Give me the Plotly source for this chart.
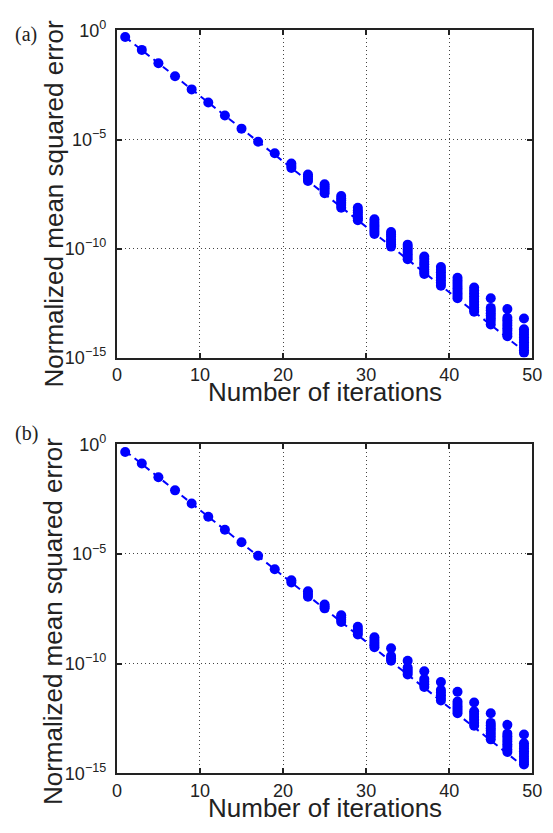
import plotly.graph_objects as go

W, H = 553, 833

# Iterations (odd only)
iterations = [1, 3, 5, 7, 9, 11, 13, 15, 17, 19, 21, 23, 25, 27, 29, 31, 33, 35, 37, 39, 41, 43, 45, 47, 49]

# log10 of normalized MSE for each run, per iteration — panel (a)
log_mse_a = [
    [-0.30], [-0.89], [-1.50], [-2.10], [-2.70], [-3.30], [-3.90], [-4.50], [-5.10], [-5.63],
    [-6.10, -6.20, -6.30],
    [-6.60, -6.70, -6.80, -6.90],
    [-7.05, -7.15, -7.25, -7.35, -7.46],
    [-7.59, -7.70, -7.80, -7.90, -8.00, -8.13],
    [-8.13, -8.25, -8.35, -8.45, -8.55, -8.62, -8.70],
    [-8.66, -8.78, -8.90, -9.00, -9.10, -9.22, -9.33],
    [-9.24, -9.35, -9.46, -9.58, -9.70, -9.80, -9.91],
    [-9.82, -9.93, -10.04, -10.15, -10.26, -10.38, -10.49],
    [-10.36, -10.48, -10.60, -10.72, -10.84, -10.96, -11.06, -11.16],
    [-10.85, -10.97, -11.09, -11.21, -11.33, -11.45, -11.58, -11.70],
    [-11.34, -11.46, -11.58, -11.70, -11.82, -11.94, -12.06, -12.17, -12.28],
    [-11.79, -11.92, -12.05, -12.18, -12.31, -12.44, -12.57, -12.70, -12.80, -12.90],
    [-12.28, -12.72, -12.84, -12.96, -13.08, -13.20, -13.32, -13.48],
    [-12.77, -13.17, -13.29, -13.41, -13.53, -13.65, -13.77, -13.90, -14.02],
    [-13.21, -13.70, -13.82, -13.94, -14.06, -14.18, -14.30, -14.42, -14.54, -14.66, -14.78],
]

# panel (b)
log_mse_b = [
    [-0.35], [-0.88], [-1.50], [-2.10], [-2.70], [-3.30], [-3.90], [-4.47], [-5.08], [-5.70],
    [-6.20, -6.30],
    [-6.70, -6.82, -6.95],
    [-7.30, -7.40, -7.48],
    [-7.79, -7.90, -8.00, -8.10],
    [-8.32, -8.44, -8.56, -8.67],
    [-8.80, -8.92, -9.04, -9.15, -9.25],
    [-9.30, -9.65, -9.76, -9.87],
    [-9.87, -10.18, -10.28, -10.38, -10.49],
    [-10.35, -10.70, -10.82, -10.94, -11.06],
    [-10.84, -11.20, -11.32, -11.44, -11.56, -11.68],
    [-11.28, -11.73, -11.84, -11.95, -12.06, -12.16, -12.26],
    [-11.77, -12.17, -12.30, -12.43, -12.56, -12.70, -12.83],
    [-12.26, -12.70, -12.82, -12.94, -13.06, -13.18, -13.31, -13.45],
    [-12.79, -13.19, -13.31, -13.43, -13.55, -13.67, -13.79, -13.91, -14.03],
    [-13.23, -13.63, -13.75, -13.87, -13.99, -14.11, -14.23, -14.35, -14.47, -14.60],
]

# Dashed reference line (log10 values at its ends)
bound_iters = [1, 49]
bound_log = [-0.30, -14.70]

x_ticks = [0, 10, 20, 30, 40, 50]
y_ticks = [1e0, 1e-5, 1e-10, 1e-15]
y_ticktext = ["10<sup>0</sup>", "10<sup>\u22125</sup>", "10<sup>\u221210</sup>", "10<sup>\u221215</sup>"]

BLUE = "#0000FF"
FONT = "Liberation Sans, Arial, Helvetica, sans-serif"


def py(p):
    return (H - p) / H


def px(p):
    return p / W


fig = go.Figure()

panels = [
    ("x", "y", log_mse_a),
    ("x2", "y2", log_mse_b),
]

for xa, ya, data in panels:
    fig.add_trace(go.Scatter(
        x=bound_iters, y=[10 ** v for v in bound_log], mode="lines",
        line=dict(color=BLUE, width=2, dash="7px,5px"),
        xaxis=xa, yaxis=ya, showlegend=False, hoverinfo="skip"))
    xs, ys = [], []
    for k, vals in zip(iterations, data):
        for v in vals:
            xs.append(k)
            ys.append(10 ** v)
    fig.add_trace(go.Scatter(
        x=xs, y=ys, mode="markers",
        marker=dict(color=BLUE, size=10, line=dict(width=0)),
        xaxis=xa, yaxis=ya, showlegend=False))

x_dom = [px(115), px(542)]
dom_a = [py(355), py(19)]
dom_b = [py(782), py(444)]

common_x = dict(
    range=[0, 50], tickvals=x_ticks, ticktext=[str(t) for t in x_ticks],
    showline=True, linecolor="#222", linewidth=2, mirror="ticks",
    ticks="inside", ticklen=5, tickwidth=2, tickcolor="#222",
    showgrid=True, gridcolor="#444", gridwidth=1, griddash="1px,3px",
    zeroline=False, tickfont=dict(family=FONT, size=18, color="#222"),
    domain=x_dom,
)
common_y = dict(
    type="log", range=[-15, 0], tickvals=y_ticks, ticktext=y_ticktext,
    showline=True, linecolor="#222", linewidth=2, mirror="ticks",
    ticks="inside", ticklen=5, tickwidth=2, tickcolor="#222",
    showgrid=True, gridcolor="#444", gridwidth=1, griddash="1px,3px",
    zeroline=False, tickfont=dict(family=FONT, size=18, color="#222"),
    ticklabelstandoff=5,
)

fig.update_layout(
    width=W, height=H,
    margin=dict(l=0, r=0, t=0, b=0),
    paper_bgcolor="white", plot_bgcolor="white",
    xaxis=dict(**common_x, anchor="y"),
    yaxis=dict(**common_y, domain=dom_a, anchor="x"),
    xaxis2=dict(**common_x, anchor="y2"),
    yaxis2=dict(**common_y, domain=dom_b, anchor="x2"),
)

annotations = []
for label, top_plot, ytitle_c, xtitle_c in [("(a)", 23, 197, 390), ("(b)", 433, 626, 818)]:
    annotations.append(dict(
        text=label, xref="paper", yref="paper", x=px(22), y=py(top_plot),
        xanchor="center", yanchor="middle", showarrow=False,
        font=dict(family="Liberation Serif, Times New Roman, serif", size=20, color="#222")))
    annotations.append(dict(
        text="Normalized mean squared error", xref="paper", yref="paper",
        x=px(50), y=py(ytitle_c), xanchor="center", yanchor="middle",
        textangle=-90, showarrow=False,
        font=dict(family=FONT, size=26, color="#222")))
    annotations.append(dict(
        text="Number of iterations", xref="paper", yref="paper",
        x=px(329), y=py(xtitle_c), xanchor="center", yanchor="middle",
        showarrow=False, font=dict(family=FONT, size=26, color="#222")))

fig.update_layout(annotations=annotations)

fig.write_html("out.html")
